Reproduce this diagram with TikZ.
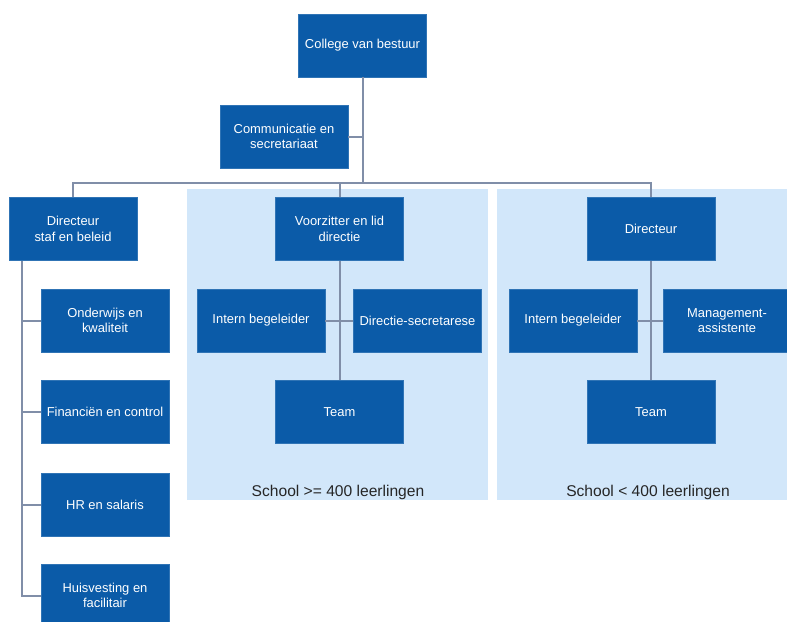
\documentclass[tikz,border=0pt]{standalone}
\usepackage{fontspec}
\setmainfont{Liberation Sans}
\usepackage{tikz}
\usetikzlibrary{calc}
\definecolor{boxblue}{RGB}{11,91,168}
\definecolor{panelblue}{RGB}{210,231,250}
\definecolor{linegray}{RGB}{128,142,168}
\definecolor{labelgray}{RGB}{38,38,38}
\tikzset{
	unit/.style={draw=boxblue!85!white,line width=0.4pt,fill=boxblue,text=white,align=center,
		minimum width=96pt,minimum height=47.25pt,inner sep=1pt,
		font=\fontsize{9.7}{11.6}\selectfont},
	conn/.style={draw=linegray,line width=1.5pt},
	panel/.style={fill=panelblue,draw=none},
	schoollabel/.style={text=labelgray,font=\fontsize{11.7}{14}\selectfont}
}
\begin{document}
\begin{tikzpicture}[x=0.75pt,y=-0.75pt]
			\useasboundingbox (0,0) rectangle (787,621);
			\clip (0,0) rectangle (787,621);
			
			\fill[panel] (187,189) rectangle (488,500);
			\fill[panel] (497,189) rectangle (792,500);
			
			\node[unit](cvb)at(362.5,45.5) {College van bestuur};
			\node[unit](comm)at(284,136.5) {Communicatie en\\secretariaat};
			\node[unit](dsb)at(73,229) {Directeur\\staf en beleid};
			\node[unit](onder)at(105,320.5) {Onderwijs en\\kwaliteit};
			\node[unit](fin)at(105,412) {Financiën en control};
			\node[unit](hr)at(105,504.5) {HR en salaris};
			\node[unit](huis)at(105,595.5) {Huisvesting en\\facilitair};
			
			\node[unit](vz)at(339.5,229) {Voorzitter en lid\\directie};
			\node[unit](ib1)at(261,320.5) {Intern begeleider};
			\node[unit](dsec)at(417.5,320.5) {Directie-secretarese};
			\node[unit](team1)at(339.5,412) {Team};
			\node[schoollabel](lbl1)at(338,492) {School >= 400 leerlingen};
			
			\node[unit](dir)at(651,229) {Directeur};
			\node[unit](ib2)at(573,320.5) {Intern begeleider};
			\node[unit](ma)at(727,320.5) {Management-\\assistente};
			\node[unit](team2)at(651,412) {Team};
			\node[schoollabel](lbl2)at(648,492) {School < 400 leerlingen};
			
			\coordinate (bus)at(362.5,183);
			\coordinate (staf)at(22,261);
			
			\draw[conn](cvb.south) -- (bus);
			\draw[conn](comm.east) -- (comm.east -| bus);
			\draw[conn](dsb.north) |- (bus) -| (dir.north);
			\draw[conn](bus) -| (vz.north);
			
			\draw[conn](staf) |- (huis.west);
			\draw[conn](onder.west) -- (onder.west -| staf);
			\draw[conn](fin.west) -- (fin.west -| staf);
			\draw[conn](hr.west) -- (hr.west -| staf);
			
			\draw[conn](vz.south) -- (team1.north);
			\draw[conn](ib1.east) -- (dsec.west);
			\draw[conn](dir.south) -- (team2.north);
			\draw[conn](ib2.east) -- (ma.west);
		\end{tikzpicture}
\end{document}
